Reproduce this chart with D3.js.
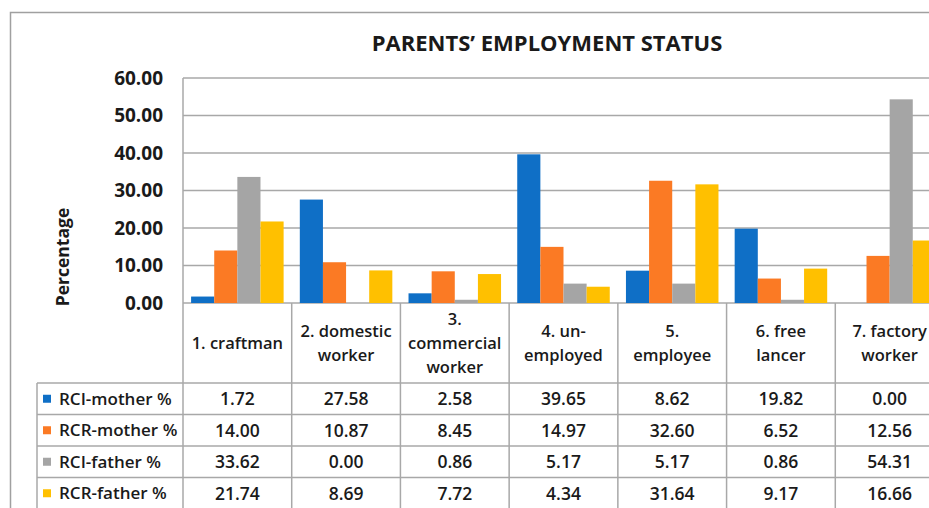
<!DOCTYPE html>
<html>
<head>
<meta charset="utf-8">
<script src="https://cdn.jsdelivr.net/npm/d3@7"></script>
<style>
  body { margin: 0; background: #fff; }
  text { font-family: "Open Sans", Lato, sans-serif; fill: #1a1a1a; }
</style>
</head>
<body>
<div id="chart"></div>
<script>
// Chart data
var categories = ["1. craftman", "2. domestic worker", "3. commercial worker", "4. un-employed", "5. employee", "6. free lancer", "7. factory worker"];
var categoryLines = [["1. craftman"], ["2. domestic", "worker"], ["3.", "commercial", "worker"], ["4. un-", "employed"], ["5.", "employee"], ["6. free", "lancer"], ["7. factory", "worker"]];
var seriesNames = ["RCI-mother %", "RCR-mother %", "RCI-father %", "RCR-father %"];
var rciMother = [1.72, 27.58, 2.58, 39.65, 8.62, 19.82, 0.00];
var rcrMother = [14.00, 10.87, 8.45, 14.97, 32.60, 6.52, 12.56];
var rciFather = [33.62, 0.00, 0.86, 5.17, 5.17, 0.86, 54.31];
var rcrFather = [21.74, 8.69, 7.72, 4.34, 31.64, 9.17, 16.66];
var yTicks = [0, 10, 20, 30, 40, 50, 60];

var seriesValues = [rciMother, rcrMother, rciFather, rcrFather];
var colors = ["#0f6fc6", "#fb7a24", "#a5a5a5", "#ffc000"];

var svgWidth = 929;
var svgHeight = 508;

var plot = { left: 183, right: 944, top: 78, bottom: 303 };
var headerBottom = 383;
var rowHeight = 31.5;
var legendLeft = 37;
var gridColor = "#a8a8a8";

var svg = d3.select("#chart")
  .append("svg")
  .attr("width", svgWidth)
  .attr("height", svgHeight);

// outer frame
svg.append("rect")
  .attr("x", 10.5).attr("y", 12.5)
  .attr("width", 940).attr("height", 520)
  .attr("fill", "none")
  .attr("stroke", "#a0a0a0")
  .attr("stroke-width", 1.5);

var xScale = d3.scaleBand()
  .domain(categories)
  .range([plot.left, plot.right]);

var xInner = d3.scaleBand()
  .domain(seriesNames)
  .range([0, xScale.bandwidth()])
  .paddingInner(0)
  .paddingOuter(0.35);

var yScale = d3.scaleLinear()
  .domain([0, 60])
  .range([plot.bottom, plot.top]);

// gridlines
svg.append("g")
  .selectAll("line")
  .data(yTicks)
  .enter()
  .append("line")
  .attr("x1", plot.left)
  .attr("x2", plot.right)
  .attr("y1", d => yScale(d))
  .attr("y2", d => yScale(d))
  .attr("stroke", gridColor)
  .attr("stroke-width", 1.5);

// y axis labels
var leftAxis = d3.axisLeft(yScale)
  .tickValues(yTicks)
  .tickFormat(d3.format(".2f"))
  .tickSize(0)
  .tickPadding(20);

var axisG = svg.append("g")
  .attr("transform", `translate(${plot.left}, 0)`)
  .call(leftAxis);
axisG.select(".domain").remove();
axisG.selectAll("text")
  .style("font-family", "'Open Sans', sans-serif")
  .style("font-size", "19px")
  .style("font-weight", "bold")
  .attr("fill", "#1a1a1a");

// bars
var groups = svg.append("g")
  .selectAll("g")
  .data(categories)
  .enter()
  .append("g")
  .attr("transform", d => `translate(${xScale(d)}, 0)`);

groups.selectAll("rect")
  .data((d, i) => seriesNames.map((s, j) => ({ series: s, value: seriesValues[j][i], color: colors[j] })))
  .enter()
  .append("rect")
  .attr("x", d => xInner(d.series))
  .attr("width", xInner.bandwidth())
  .attr("y", d => yScale(d.value))
  .attr("height", d => yScale(0) - yScale(d.value))
  .attr("fill", d => d.color);

// table lines
var tableBottom = headerBottom + rowHeight * 4;
var lines = svg.append("g")
  .attr("stroke", gridColor)
  .attr("stroke-width", 1.5);

// vertical lines at category boundaries
var bounds = categories.map(c => xScale(c)).concat([plot.right]);
lines.selectAll(".vline")
  .data(bounds)
  .enter()
  .append("line")
  .attr("class", "vline")
  .attr("x1", d => d).attr("x2", d => d)
  .attr("y1", (d, i) => i === 0 ? plot.top : plot.bottom)
  .attr("y2", tableBottom + 20);

// horizontal row lines
var rowLines = d3.range(5).map(i => headerBottom + i * rowHeight);
lines.selectAll(".hline")
  .data(rowLines)
  .enter()
  .append("line")
  .attr("class", "hline")
  .attr("x1", legendLeft)
  .attr("x2", plot.right)
  .attr("y1", d => d).attr("y2", d => d);

lines.append("line")
  .attr("x1", legendLeft).attr("x2", legendLeft)
  .attr("y1", headerBottom).attr("y2", tableBottom + 20);

// category headers
var headers = svg.append("g")
  .selectAll("text")
  .data(categories)
  .enter()
  .append("text")
  .attr("text-anchor", "middle")
  .style("font-size", "16.5px")
  .style("font-weight", 600)
  .attr("x", d => xScale(d) + xScale.bandwidth() / 2)
  .attr("y", (d, i) => 343 - (categoryLines[i].length - 1) * 12 + 6);

headers.selectAll("tspan")
  .data((d, i) => categoryLines[i])
  .enter()
  .append("tspan")
  .attr("x", function() { return d3.select(this.parentNode).attr("x"); })
  .attr("dy", (d, i) => i === 0 ? 0 : 24)
  .text(d => d);

// legend rows
var legendRows = svg.append("g")
  .selectAll("g")
  .data(seriesNames)
  .enter()
  .append("g")
  .attr("transform", (d, i) => `translate(0, ${headerBottom + i * rowHeight + rowHeight / 2})`);

legendRows.append("rect")
  .attr("x", legendLeft + 6)
  .attr("y", -4)
  .attr("width", 8)
  .attr("height", 8)
  .attr("fill", (d, i) => colors[i]);

legendRows.append("text")
  .attr("x", legendLeft + 22)
  .attr("y", 6)
  .style("font-size", "17px")
  .style("font-weight", 600)
  .text(d => d);

// table values
legendRows.selectAll(".val")
  .data((d, i) => seriesValues[i].map((v, k) => ({ v: v, c: categories[k] })))
  .enter()
  .append("text")
  .attr("class", "val")
  .attr("text-anchor", "middle")
  .attr("x", d => xScale(d.c) + xScale.bandwidth() / 2)
  .attr("y", 6.5)
  .style("font-size", "17.5px")
  .style("font-weight", 600)
  .text(d => d.v.toFixed(2));

// title
svg.append("text")
  .attr("x", 547)
  .attr("y", 51)
  .attr("text-anchor", "middle")
  .style("font-size", "22px")
  .style("font-weight", "bold")
  .text("PARENTS\u2019 EMPLOYMENT STATUS");

// y axis title
svg.append("text")
  .attr("transform", "translate(69, 257) rotate(-90)")
  .attr("text-anchor", "middle")
  .style("font-size", "17.5px")
  .style("font-weight", "bold")
  .text("Percentage");
</script>
</body>
</html>
